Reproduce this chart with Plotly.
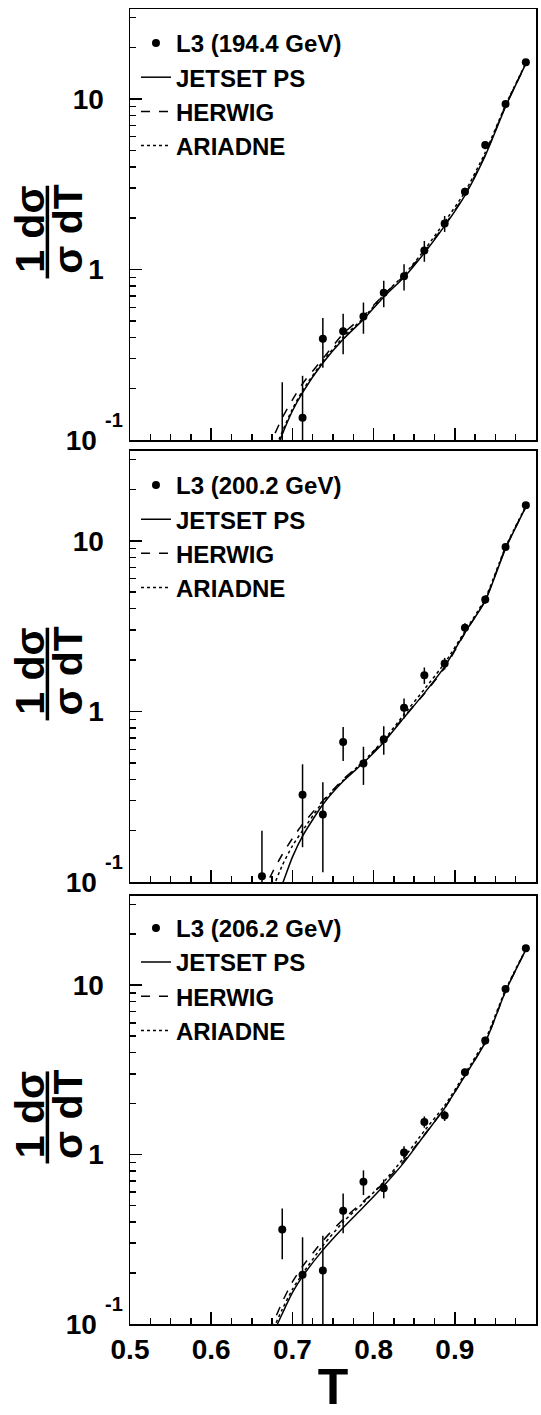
import plotly.graph_objects as go
from plotly.subplots import make_subplots

# ---------------- data ----------------
ENERGY_LABELS = ["L3 (194.4 GeV)", "L3 (200.2 GeV)", "L3 (206.2 GeV)"]
MODEL_NAMES = ["JETSET PS", "HERWIG", "ARIADNE"]

T_DATA_194 = [0.6875, 0.7125, 0.7375, 0.7625, 0.7875, 0.8125, 0.8375, 0.8625, 0.8875, 0.9125, 0.9375, 0.9625, 0.9875]
Y_DATA_194 = [0.07, 0.135, 0.392, 0.435, 0.530, 0.730, 0.912, 1.29, 1.86, 2.86, 5.36, 9.35, 16.4]
E_DATA_194 = [0.148, 0.103, 0.127, 0.116, 0.11, 0.13, 0.16, 0.18, 0.2, 0.15, 0.3, 0.4, 0.5]

T_DATA_200 = [0.6625, 0.7125, 0.7375, 0.7625, 0.7875, 0.8125, 0.8375, 0.8625, 0.8875, 0.9125, 0.9375, 0.9625, 0.9875]
Y_DATA_200 = [0.108, 0.325, 0.249, 0.662, 0.496, 0.688, 1.05, 1.63, 1.91, 3.09, 4.53, 9.21, 16.2]
E_DATA_200 = [0.092, 0.165, 0.135, 0.15, 0.125, 0.13, 0.14, 0.18, 0.15, 0.2, 0.25, 0.35, 0.45]

T_DATA_206 = [0.6875, 0.7125, 0.7375, 0.7625, 0.7875, 0.8125, 0.8375, 0.8625, 0.8875, 0.9125, 0.9375, 0.9625, 0.9875]
Y_DATA_206 = [0.361, 0.195, 0.207, 0.466, 0.692, 0.632, 1.03, 1.56, 1.70, 3.06, 4.72, 9.48, 16.5]
E_DATA_206 = [0.12, 0.13, 0.125, 0.123, 0.115, 0.08, 0.09, 0.12, 0.12, 0.15, 0.25, 0.35, 0.45]

CURVE_T = [0.6625, 0.675, 0.6875, 0.7, 0.7125, 0.7375, 0.7625, 0.7875, 0.8125, 0.8375, 0.8625, 0.8875, 0.9125, 0.9375, 0.9625, 0.9875]

JETSET_194 = [0.05, 0.075, 0.108, 0.148, 0.19, 0.283, 0.39, 0.51, 0.69, 0.90, 1.25, 1.80, 2.72, 4.65, 9.0, 16.1]
HERWIG_194 = [0.07, 0.10, 0.135, 0.172, 0.214, 0.30, 0.42, 0.535, 0.71, 0.92, 1.27, 1.82, 2.75, 4.7, 9.1, 16.0]
ARIADNE_194 = [0.055, 0.08, 0.112, 0.152, 0.195, 0.29, 0.40, 0.52, 0.71, 0.93, 1.30, 1.90, 2.85, 4.85, 9.2, 16.2]

JETSET_200 = [0.048, 0.07, 0.097, 0.14, 0.186, 0.285, 0.39, 0.50, 0.66, 0.92, 1.28, 1.83, 2.9, 4.45, 9.0, 15.8]
HERWIG_200 = [0.085, 0.113, 0.145, 0.18, 0.218, 0.30, 0.40, 0.51, 0.67, 0.93, 1.27, 1.80, 2.88, 4.5, 9.1, 15.8]
ARIADNE_200 = [0.065, 0.09, 0.125, 0.163, 0.20, 0.295, 0.395, 0.51, 0.68, 0.96, 1.35, 1.92, 2.95, 4.6, 9.2, 16.0]

JETSET_206 = [0.06, 0.085, 0.115, 0.153, 0.191, 0.273, 0.37, 0.49, 0.655, 0.90, 1.30, 1.88, 2.92, 4.6, 9.2, 16.2]
HERWIG_206 = [0.072, 0.098, 0.135, 0.177, 0.219, 0.31, 0.415, 0.53, 0.68, 0.92, 1.31, 1.88, 2.93, 4.6, 9.2, 16.2]
ARIADNE_206 = [0.065, 0.09, 0.122, 0.16, 0.198, 0.29, 0.40, 0.52, 0.69, 0.96, 1.38, 1.95, 3.0, 4.75, 9.4, 16.3]

X_TICKS = [0.5, 0.6, 0.7, 0.8, 0.9, 1.0]
Y_TICKS = [0.1, 1, 10]
Y_TICK_TEXT = ["10\u2005", "1", "10"]
Y_MINOR = [0.2, 0.3, 0.4, 0.5, 0.6, 0.7, 0.8, 0.9, 2, 3, 4, 5, 6, 7, 8, 9, 20, 30]

PANELS = [
    (T_DATA_194, Y_DATA_194, E_DATA_194, [JETSET_194, HERWIG_194, ARIADNE_194]),
    (T_DATA_200, Y_DATA_200, E_DATA_200, [JETSET_200, HERWIG_200, ARIADNE_200]),
    (T_DATA_206, Y_DATA_206, E_DATA_206, [JETSET_206, HERWIG_206, ARIADNE_206]),
]

# ---------------- style ----------------
FONT = "Liberation Sans, Arial, Helvetica, sans-serif"
DASHES = ["solid", "dash", "dot"]
W, H = 541, 1415
ML, MR, MT, MB = 130, 3, 9, 79
PW = W - ML - MR
PH = H - MT - MB
# panel pixel extents (top, bottom)
PANEL_PX = [(9, 444), (455, 890), (904, 1336)]
LEGEND_TOP_PX = [21, 467, 914]


def yfrac(py):
    return (H - MB - py) / PH


def xfrac(px):
    return (px - ML) / PW


fig = make_subplots(rows=3, cols=1, shared_xaxes=True)

for i, (tx, ty, te, curves) in enumerate(PANELS):
    row = i + 1
    leg = "legend" if i == 0 else f"legend{row}"
    fig.add_trace(go.Scatter(
        x=tx, y=ty, mode="markers", name=ENERGY_LABELS[i], legend=leg,
        marker=dict(size=8, color="black"),
        error_y=dict(type="data", array=te, visible=True, color="black", thickness=1.5, width=0),
    ), row=row, col=1)
    for name, vals, dash in zip(MODEL_NAMES, curves, DASHES):
        fig.add_trace(go.Scatter(
            x=CURVE_T, y=vals, mode="lines", name=name, legend=leg,
            line=dict(color="black", width=1.5, dash=dash, shape="spline", smoothing=0.6),
        ), row=row, col=1)

axis_common = dict(showline=True, mirror=True, linecolor="black", linewidth=1.5,
                   showgrid=False, zeroline=False, ticks="inside", tickcolor="black",
                   tickwidth=1.5, ticklen=12)

layout = dict(width=W, height=H, margin=dict(l=ML, r=MR, t=MT, b=MB),
              paper_bgcolor="white", plot_bgcolor="white",
              font=dict(family=FONT, color="black", size=24, weight="bold"),
              annotations=[], shapes=[])

for i in range(3):
    row = i + 1
    sfx = "" if i == 0 else str(row)
    top, bot = PANEL_PX[i]
    layout[f"xaxis{sfx}"] = dict(
        axis_common, range=[0.5, 1.0], tickvals=X_TICKS,
        minor=dict(dtick=0.025, tick0=0.5, ticks="inside", ticklen=6, tickwidth=1.5, tickcolor="black"),
        showticklabels=(i == 2), tickfont=dict(size=28, family=FONT, weight="bold"),
        ticklabelstandoff=0,
    )
    if i < 2:
        layout[f"xaxis{sfx}"]["matches"] = "x3"
    layout[f"yaxis{sfx}"] = dict(
        axis_common, type="log", range=[-1, 1.527], domain=[yfrac(bot), yfrac(top)],
        tickvals=Y_TICKS, ticktext=Y_TICK_TEXT,
        minor=dict(tickvals=Y_MINOR, ticks="inside", ticklen=6, tickwidth=1.5, tickcolor="black"),
        tickfont=dict(size=28, family=FONT, weight="bold"), ticklabelstandoff=19,
    )
    leg = "legend" if i == 0 else f"legend{row}"
    layout[leg] = dict(x=xfrac(136), y=yfrac(LEGEND_TOP_PX[i]), xanchor="left", yanchor="top",
                       bgcolor="rgba(0,0,0,0)", itemwidth=30, tracegroupgap=0,
                       font=dict(size=24, family=FONT, weight="bold"))
    yref = "y" if i == 0 else f"y{row}"
    # superscript of the 10^-1 tick label
    layout["annotations"].append(dict(
        text="-1", xref="paper", x=xfrac(114), yref=yref, y=-1, yshift=20,
        showarrow=False, xanchor="center", yanchor="middle",
        font=dict(size=20, family=FONT, weight="bold")))
    # y-axis title as a fraction
    layout["annotations"].append(dict(
        text="1 d\u03c3", xref="paper", x=xfrac(29.5), yref=f"{yref} domain", y=0.49,
        textangle=-90, showarrow=False, xanchor="center", yanchor="middle",
        font=dict(size=41, family=FONT, weight="bold")))
    layout["annotations"].append(dict(
        text="\u03c3 dT", xref="paper", x=xfrac(67.5), yref=f"{yref} domain", y=0.49,
        textangle=-90, showarrow=False, xanchor="center", yanchor="middle",
        font=dict(size=41, family=FONT, weight="bold")))
    layout["shapes"].append(dict(
        type="line", xref="paper", x0=xfrac(47), x1=xfrac(47),
        yref=f"{yref} domain", y0=0.375, y1=0.59, line=dict(color="black", width=3.5)))

layout["xaxis3"]["title"] = dict(text="T", font=dict(size=50, family=FONT, weight="bold"), standoff=12)

fig.update_layout(**layout)
fig.write_html(
    "out.html",
    config={"displayModeBar": False, "staticPlot": True},
    post_script=(
        "document.body.style.margin='0';"
        "document.body.style.overflow='hidden';"
        "document.body.style.height='1415px';"
        "document.documentElement.style.overflow='hidden';"
    ),
)
